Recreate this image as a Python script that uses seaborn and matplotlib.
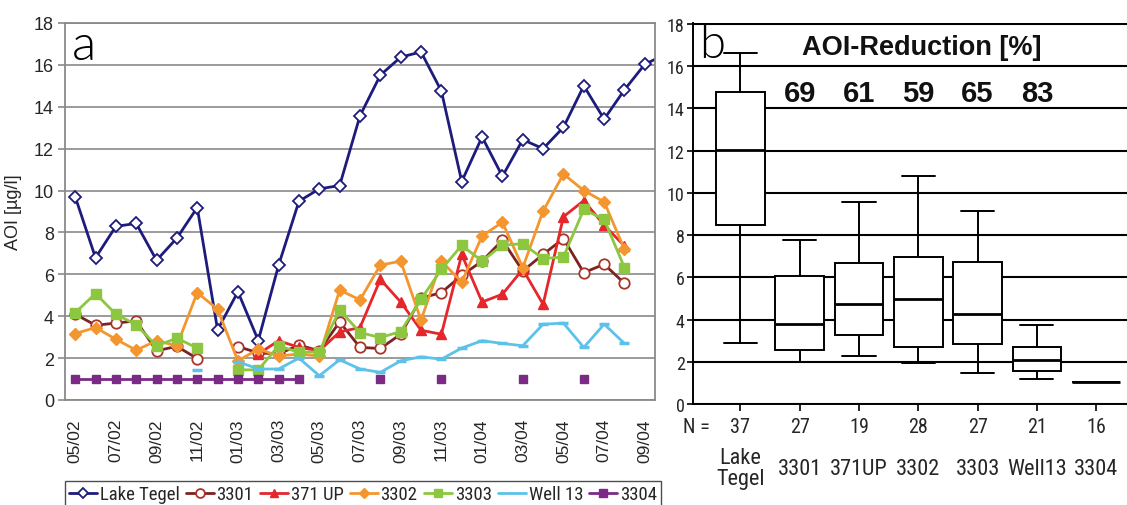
import numpy as np
import pandas as pd
import matplotlib
matplotlib.use("Agg")
import matplotlib.pyplot as plt
from matplotlib.lines import Line2D
from matplotlib import font_manager
import seaborn as sns

nan = np.nan

# ---------------- data: monthly AOI concentrations (µg/l) ----------------
months = ["05/02", "06/02", "07/02", "08/02", "09/02", "10/02", "11/02", "12/02",
          "01/03", "02/03", "03/03", "04/03", "05/03", "06/03", "07/03", "08/03",
          "09/03", "10/03", "11/03", "12/03", "01/04", "02/04", "03/04", "04/04",
          "05/04", "06/04", "07/04", "08/04", "09/04", "10/04"]

lake_tegel = [9.71, 6.79, 8.29, 8.43, 6.67, 7.73, 9.19, 3.35, 5.17, 2.84,
              6.44, 9.49, 10.08, 10.24, 13.57, 15.51, 16.37, 16.62, 14.75, 10.43,
              12.56, 10.68, 12.43, 12.0, 13.02, 15.0, 13.41, 14.81, 16.03, 16.5]
well_3301 = [4.1, 3.57, 3.67, 3.78, 2.35, 2.56, 1.98, nan, 2.55, 2.25,
             2.2, 2.62, 2.35, 3.73, 2.51, 2.46, 3.14, 4.86, 5.13, 5.95,
             6.63, 7.63, 6.16, 6.95, 7.71, 6.08, 6.48, 5.57, nan, nan]
well_371up = [nan, nan, nan, nan, nan, nan, nan, nan, nan, 2.2,
              2.83, 2.51, 2.35, 3.25, 3.46, 5.76, 4.68, 3.33, 3.14, 6.95,
              4.68, 5.05, 6.24, 4.57, 8.75, 9.52, 8.35, 7.35, nan, nan]
well_3302 = [3.17, 3.46, 2.9, 2.38, 2.83, 2.59, 5.13, 4.33, 1.87, 2.43,
             2.11, 2.19, 2.1, 5.25, 4.78, 6.44, 6.63, 3.81, 6.63, 5.63,
             7.83, 8.49, 6.32, 9.02, 10.79, 10.0, 9.46, 7.19, nan, nan]
well_3303 = [4.17, 5.08, 4.1, 3.59, 2.59, 2.95, 2.48, nan, 1.44, 1.44,
             2.59, 2.27, 2.3, 4.3, 3.22, 2.98, 3.27, 4.81, 6.24, 7.38,
             6.63, 7.4, 7.46, 6.75, 6.83, 9.1, 8.62, 6.32, nan, nan]
well_13 = [nan, nan, nan, nan, nan, nan, 1.43, nan, 1.83, 1.48,
           1.48, 2.0, 1.16, 1.92, 1.48, 1.32, 1.87, 2.06, 1.95, 2.48,
           2.83, 2.7, 2.59, 3.62, 3.67, 2.51, 3.62, 2.7, nan, nan]
well_3304 = [1.0, 1.0, 1.0, 1.0, 1.0, 1.0, 1.0, 1.0, 1.0, 1.0,
             1.0, 1.0, nan, nan, nan, 1.0, nan, nan, 1.0, nan,
             nan, nan, 1.0, nan, nan, 1.0, nan, nan, nan, nan]

series_names = ["Lake Tegel", "3301", "371 UP", "3302", "3303", "Well 13", "3304"]
series_values = [lake_tegel, well_3301, well_371up, well_3302, well_3303, well_13, well_3304]

# ---------------- data: box-plot summaries per site ----------------
box_sites = ["Lake\nTegel", "3301", "371UP", "3302", "3303", "Well13", "3304"]
box_n = [37, 27, 19, 28, 27, 21, 16]
box_low = [2.89, 2.01, 2.28, 1.93, 1.46, 1.17, 1.02]
box_q1 = [8.47, 2.54, 3.25, 2.68, 2.84, 1.54, 1.02]
box_median = [12.02, 3.79, 4.74, 4.98, 4.28, 2.08, 1.02]
box_q3 = [14.76, 6.06, 6.66, 6.95, 6.74, 2.68, 1.02]
box_high = [16.63, 7.77, 9.56, 10.81, 9.15, 3.73, 1.02]
reduction_sites = ["3301", "371UP", "3302", "3303", "Well13"]
reduction_pct = [69, 61, 59, 65, 83]

# ---------------- styling ----------------
sns.set_style("white")
available = {f.name for f in font_manager.fontManager.ttflist}
narrow_family = next((n for n in ["Liberation Sans Narrow", "Arial Narrow",
                                  "Roboto Condensed", "Open Sans Condensed",
                                  "Noto Sans Condensed", "DejaVu Sans Condensed"]
                      if n in available), None)
narrow_scale = 1.0 if narrow_family else 0.86
if narrow_family is None:
    narrow_family = "Liberation Sans"
plt.rcParams["font.family"] = ["Liberation Sans", "DejaVu Sans"]

styles = {
    "Lake Tegel": dict(color="#1d1b7c", marker="D", ms=6.5, mfc="white", mec="#1d1b7c", mew=1.3),
    "3301": dict(color="#7d2222", marker="o", ms=7.5, mfc="white", mec="#a8342a", mew=1.3),
    "371 UP": dict(color="#e5262b", marker="^", ms=7.5, mfc="#e5262b", mec="#e5262b", mew=1.0),
    "3302": dict(color="#f4962f", marker="D", ms=6.0, mfc="#f4962f", mec="#f4962f", mew=1.0),
    "3303": dict(color="#8dc63f", marker="s", ms=6.5, mfc="#8dc63f", mec="#8dc63f", mew=1.0),
    "Well 13": dict(color="#5cc2ea", marker="_", ms=7.0, mfc="#5cc2ea", mec="#5cc2ea", mew=2.5),
    "3304": dict(color="#7b2a86", marker="s", ms=6.0, mfc="#7b2a86", mec="#7b2a86", mew=1.0),
}

W, H = 1127, 506
fig = plt.figure(figsize=(W / 100, H / 100), dpi=100)
fig.patch.set_facecolor("white")

# ================= panel a: time series =================
ax1 = fig.add_axes([65 / W, 1 - 401 / H, 590 / W, 377 / H])
month_pos = np.arange(len(months))


def contiguous_runs(values):
    ok = ~np.isnan(values)
    runs, start = [], None
    for i, flag in enumerate(ok):
        if flag and start is None:
            start = i
        elif not flag and start is not None:
            runs.append((start, i))
            start = None
    if start is not None:
        runs.append((start, len(values)))
    return runs


for name, vals in zip(series_names, series_values):
    vals = np.asarray(vals, dtype=float)
    st = styles[name]
    for a, b in contiguous_runs(vals):
        sns.lineplot(x=month_pos[a:b], y=vals[a:b], ax=ax1, color=st["color"],
                     marker=st["marker"], markersize=st["ms"],
                     markerfacecolor=st["mfc"], markeredgecolor=st["mec"],
                     markeredgewidth=st["mew"], linewidth=2.0,
                     estimator=None, sort=False, legend=False)

grey = "#8a8a8a"
ax1.set_xlim(-0.5, 28.5)
ax1.set_ylim(0, 18)
ax1.set_yticks(range(0, 19, 2))
ax1.set_xticks(month_pos[0:29:2])
ax1.set_xticklabels(months[0:29:2], rotation=90, fontsize=12.5)
ax1.set_xticks(np.arange(-0.5, 29, 2), minor=True)
ax1.tick_params(axis="x", which="major", length=0, pad=13)
ax1.tick_params(axis="x", which="minor", length=6, width=1.2, color=grey, direction="out")
ax1.tick_params(axis="y", length=5, width=1.2, color=grey, labelsize=13, pad=3, left=True)
ax1.grid(axis="y", color=grey, linewidth=1.2)
ax1.grid(axis="x", visible=False)
ax1.set_axisbelow(True)
for sp in ax1.spines.values():
    sp.set_color(grey)
    sp.set_linewidth(1.3)
ax1.set_xlabel("")
ax1.set_ylabel("AOI [µg/l]", fontsize=13)
ax1.yaxis.set_label_coords(-0.073, 0.5)
ax1.text(0.012, 1.0, "a", transform=ax1.transAxes, fontsize=36, va="top", ha="left",
         family=["Lato", "DejaVu Sans"], fontweight=300, color="#000000")

handles = [Line2D([], [], color=styles[n]["color"], marker=styles[n]["marker"],
                  markersize=styles[n]["ms"] * 0.85, markerfacecolor=styles[n]["mfc"],
                  markeredgecolor=styles[n]["mec"], markeredgewidth=styles[n]["mew"],
                  linewidth=2.0)
           for n in series_names]
handles[5] = Line2D([], [], color=styles["Well 13"]["color"], linewidth=2.0)
leg = fig.legend(handles, series_names, loc="upper left",
                 bbox_to_anchor=(65 / W, 1 - 483 / H, 596 / W, 0.001),
                 mode="expand", ncol=7, frameon=True, fancybox=False,
                 edgecolor="#222222", borderaxespad=0, borderpad=0.2,
                 handlelength=1.5, handletextpad=0.15, columnspacing=0.4,
                 prop={"family": narrow_family, "size": 13.5 * narrow_scale})
leg.get_frame().set_linewidth(1.0)

# ================= panel b: box plots =================
ax2 = fig.add_axes([693 / W, 1 - 405 / H, 434 / W, 381 / H])
box_rows = []
for site, lo, q1, med, q3, hi in zip(box_sites, box_low, box_q1, box_median, box_q3, box_high):
    for v in (lo, q1, med, q3, hi):
        box_rows.append({"site": site, "aoi": v})
box_df = pd.DataFrame(box_rows)

sns.boxplot(data=box_df, x="site", y="aoi", order=box_sites, ax=ax2,
            whis=(0, 100), width=0.82, color="white", linecolor="black",
            linewidth=1.4, fliersize=0, medianprops={"linewidth": 2.0},
            capwidths=0.56, zorder=3)

ax2.set_xlim(-0.8, 6.52)
ax2.set_ylim(0, 18.05)
ax2.set_yticks(range(0, 19, 2))
ax2.set_xticks(range(len(box_sites)))
ax2.set_xticklabels([""] * len(box_sites))
ax2.set_xlabel("")
ax2.set_ylabel("")
ax2.grid(axis="y", color="black", linewidth=1.5)
ax2.grid(axis="x", visible=False)
ax2.set_axisbelow(True)
ax2.spines["top"].set_visible(False)
ax2.spines["right"].set_visible(False)
for sp in ("left", "bottom"):
    ax2.spines[sp].set_color("black")
    ax2.spines[sp].set_linewidth(1.4)
ax2.tick_params(axis="y", length=4, width=1.2, color="black", labelsize=13 * narrow_scale,
                pad=2, left=True)
for lab in ax2.get_yticklabels():
    lab.set_family(narrow_family)
ax2.tick_params(axis="x", length=5, width=1.2, color="black", bottom=True)

ax2.text(0.015, 1.0, "b", transform=ax2.transAxes, fontsize=34, va="top", ha="left",
         family=["Lato", "DejaVu Sans"], fontweight=300, color="#000000")
ax2.text(3.05, 16.6, "AOI-Reduction [%]", ha="center", va="baseline",
         fontsize=19.5, fontweight="bold", color="#111111")
for site, pct in zip(reduction_sites, reduction_pct):
    ax2.text(box_sites.index(site), 14.35, f"{pct}", ha="center", va="baseline",
             fontsize=21, fontweight="bold", color="#111111")

below = ax2.get_xaxis_transform()
ax2.text(-0.8 - 0.17, -0.074, "N =", transform=below, ha="left", va="baseline",
         fontsize=14.5 * narrow_scale, family=narrow_family)
for i, (site, n) in enumerate(zip(box_sites, box_n)):
    ax2.text(i, -0.074, f"{n}", transform=below, ha="center", va="baseline",
             fontsize=14.5 * narrow_scale, family=narrow_family)
    ax2.text(i, -0.168, site, transform=below, ha="center", va="center",
             multialignment="center", linespacing=1.0,
             fontsize=16 * narrow_scale, family=narrow_family)

fig.savefig("out.png", dpi=100, facecolor="white")
